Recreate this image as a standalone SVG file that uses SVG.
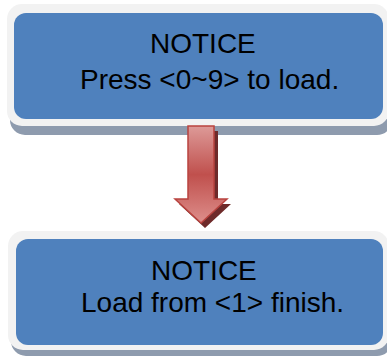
<svg xmlns="http://www.w3.org/2000/svg" width="387" height="356" viewBox="0 0 387 356">
  <defs>
    <linearGradient id="arrowFill" x1="0" y1="0" x2="0" y2="1">
      <stop offset="0" stop-color="#dd9a98"/>
      <stop offset="0.5" stop-color="#c0504d"/>
      <stop offset="1" stop-color="#dd8e8b"/>
    </linearGradient>
    <filter id="soft" x="-20%" y="-20%" width="140%" height="140%">
      <feGaussianBlur stdDeviation="0.6"/>
    </filter>
  </defs>
  <style>
    .shadow { fill: #8e9bae; }
    .frame { fill: #f2f2f2; }
    .panel { fill: #4f81bd; }
    .label { font-family: "Liberation Sans", Arial, sans-serif; font-size: 28px; fill: #000000; }
  </style>

  <!-- upper notice box -->
  <g id="notice-press">
    <rect class="shadow" x="10" y="13" width="382" height="122" rx="15"/>
    <rect class="frame" x="7" y="4" width="382" height="122" rx="15"/>
    <rect class="panel" x="14" y="13" width="369" height="106" rx="12"/>
    <text class="label" x="150" y="53">NOTICE</text>
    <text class="label" x="80" y="89">Press &lt;0~9&gt; to load.</text>
  </g>

  <!-- lower notice box -->
  <g id="notice-finish">
    <rect class="shadow" x="11" y="240" width="381" height="116" rx="15"/>
    <rect class="frame" x="8" y="231" width="381" height="119" rx="15"/>
    <rect class="panel" x="16" y="239" width="367" height="106" rx="12"/>
    <text class="label" x="151" y="280">NOTICE</text>
    <text class="label" x="81" y="312">Load from &lt;1&gt; finish.</text>
  </g>

  <!-- connector: block arrow between the boxes -->
  <g id="connectors">
    <path d="M192,131 H218 V204 H231 L205,228 L179,204 H192 Z" fill="#6e2b29" filter="url(#soft)"/>
    <path d="M188,126 H214 V199 H227 L201,223 L175,199 H188 Z" fill="url(#arrowFill)" stroke="#b9433f" stroke-width="1.5" stroke-linejoin="miter"/>
  </g>
</svg>
